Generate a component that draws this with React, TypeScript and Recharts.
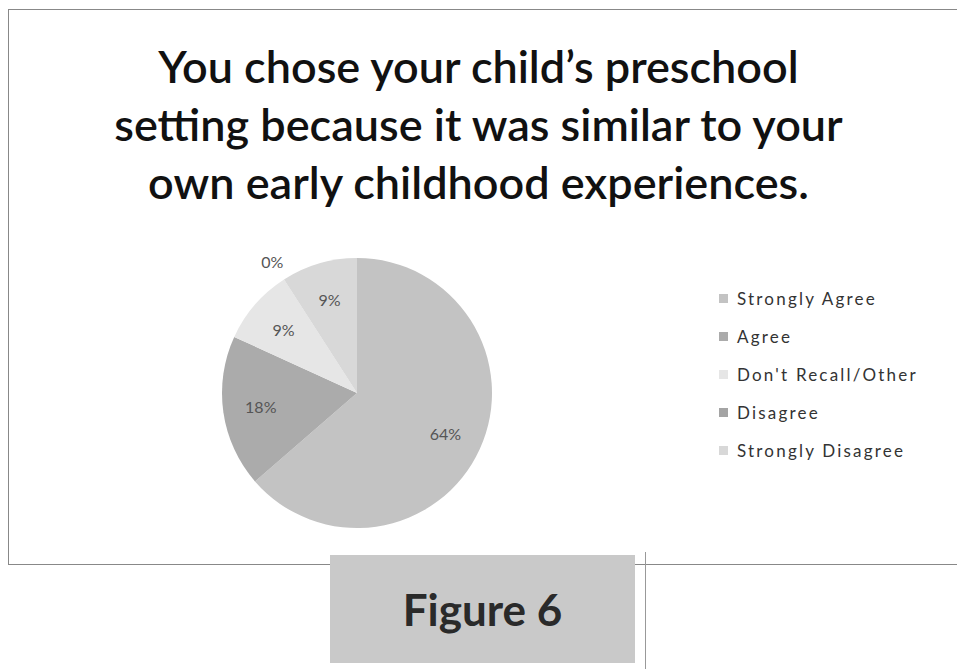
import React from 'react'
import { PieChart, Pie, Cell } from 'recharts'

const categories = ['Strongly Agree', 'Agree', "Don't Recall/Other", 'Disagree', 'Strongly Disagree']
const counts = [7, 2, 1, 0, 1]
const percentLabels = ['64%', '18%', '9%', '0%', '9%']
const sliceColors = ['#c3c3c3', '#ababab', '#e6e6e6', '#a4a4a4', '#d8d8d8']

const titleLines = [
  "You chose your child\u2019s preschool",
  'setting because it was similar to your',
  'own early childhood experiences.',
]

const chartData = categories.map((name, i) => ({
  name,
  value: counts[i],
  label: percentLabels[i],
}))

const RAD = Math.PI / 180

const renderLabel = (props: any) => {
  const { cx, cy, midAngle, outerRadius, index } = props
  const zero = counts[index] === 0
  // empty slices get their label pushed outside the pie, like Excel does
  const r = zero ? outerRadius * 1.16 : outerRadius * 0.72
  const x = cx + r * Math.cos(-midAngle * RAD)
  const y = cy + r * Math.sin(-midAngle * RAD)
  return (
    <text
      x={x}
      y={y}
      textAnchor="middle"
      dominantBaseline="central"
      fill="#555"
      fontSize={16}
      fontFamily="Lato, sans-serif"
    >
      {percentLabels[index]}
    </text>
  )
}

export default function App() {
  return (
    <div style={{ position: 'fixed', left: 0, top: 0, width: 957, height: 669, background: '#fff', fontFamily: 'Lato, sans-serif', overflow: 'hidden' }}>
      {/* outer frame */}
      <div style={{ position: 'absolute', left: 8, top: 9, width: 980, height: 556, border: '1px solid #888', borderRight: 'none', boxSizing: 'border-box' }} />

      <div style={{ position: 'absolute', left: 0, top: 37, width: 957, textAlign: 'center', color: '#111', fontSize: 45, fontWeight: 600, lineHeight: '58px' }}>
        {titleLines.map((t, i) => (
          <div key={i}>{t}</div>
        ))}
      </div>

      <div style={{ position: 'absolute', left: 0, top: 0 }}>
        <PieChart width={957} height={669} margin={{ top: 0, right: 0, bottom: 0, left: 0 }}>
          <Pie
            data={chartData}
            dataKey="value"
            nameKey="name"
            cx={357}
            cy={393}
            outerRadius={135}
            startAngle={90}
            endAngle={-270}
            stroke="none"
            label={renderLabel}
            labelLine={false}
            isAnimationActive={false}
          >
            {chartData.map((d, i) => (
              <Cell key={d.name} fill={sliceColors[i]} />
            ))}
          </Pie>
        </PieChart>
      </div>

      {/* legend, in series order */}
      <div style={{ position: 'absolute', left: 719, top: 279 }}>
        {categories.map((c, i) => (
          <div key={c} style={{ display: 'flex', alignItems: 'center', height: 38.2, fontSize: 17, color: '#333', letterSpacing: 2.2 }}>
            <div style={{ width: 9, height: 9, background: sliceColors[i], marginRight: 9 }} />
            <span>{c}</span>
          </div>
        ))}
      </div>

      {/* figure caption box */}
      <div style={{ position: 'absolute', left: 330, top: 555, width: 305, height: 108, background: '#c9c9c9', display: 'flex', alignItems: 'center', justifyContent: 'center' }}>
        <span style={{ fontSize: 44, fontWeight: 700, color: '#2a2a2a' }}>Figure 6</span>
      </div>
      <div style={{ position: 'absolute', left: 645, top: 552, width: 1, height: 117, background: '#999' }} />
    </div>
  )
}
